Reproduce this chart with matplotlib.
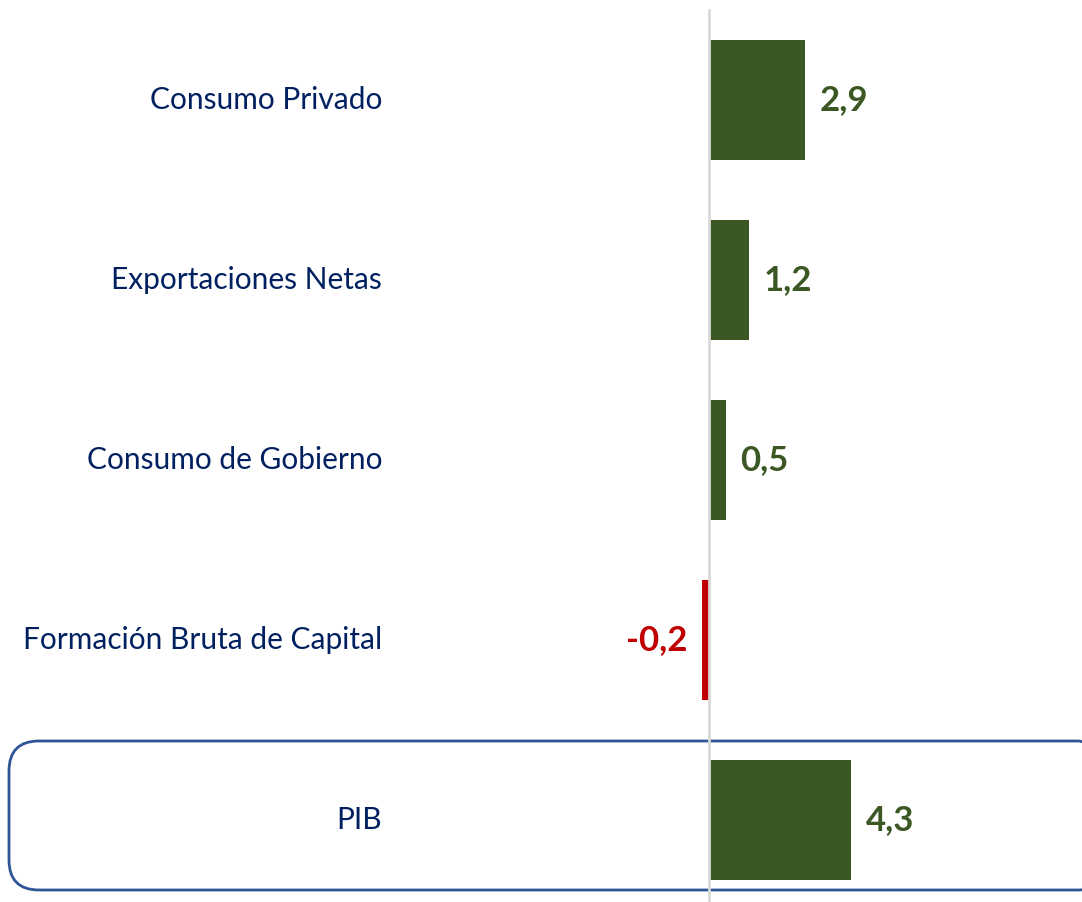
import matplotlib
matplotlib.use('Agg')
import matplotlib.pyplot as plt
from matplotlib.patches import FancyBboxPatch
import matplotlib.transforms as mtransforms

plt.rcParams['font.family'] = ['Lato', 'DejaVu Sans']

# Contribución al crecimiento del PIB (puntos porcentuales)
categories = ['Consumo Privado', 'Exportaciones Netas', 'Consumo de Gobierno',
              'Formación Bruta de Capital', 'PIB']
values = [2.9, 1.2, 0.5, -0.2, 4.3]
value_labels = ['2,9', '1,2', '0,5', '-0,2', '4,3']

green = '#3B5724'
red = '#C00000'
navy = '#002060'
box_blue = '#2F5597'

dpi = 100
fig = plt.figure(figsize=(1082/dpi, 902/dpi), dpi=dpi)
ax = fig.add_axes([0, 0, 1, 1])

ypos = list(range(len(categories)))
colors = [green if v >= 0 else red for v in values]
ax.barh(ypos, values, height=0.667, color=colors, zorder=2)

# zero line
ax.axvline(0, ymin=0, ymax=1 - 10/902, color='#D9D9D9', lw=2, zorder=3)

# value labels next to bars
for y, v, lab, c in zip(ypos, values, value_labels, colors):
    off = 0.45 if v >= 0 else -0.45
    ax.text(v + off, y, lab, color=c, fontsize=25, fontweight='bold',
            ha='left' if v >= 0 else 'right', va='center', zorder=4)

# category labels on the left
trans = mtransforms.blended_transform_factory(ax.transAxes, ax.transData)
for y, name in zip(ypos, categories):
    ax.text(382/1082, y, name, color=navy, fontsize=21.5, ha='right',
            va='center', transform=trans)

# rounded box around PIB row (right side runs off the image)
box = FancyBboxPatch((0.09, 0.12), 10.99, 1.49,
                     boxstyle='round,pad=0,rounding_size=0.3',
                     transform=fig.dpi_scale_trans, fill=False,
                     edgecolor=box_blue, lw=2, clip_on=False, zorder=1)
ax.add_patch(box)

px_per_unit = 33.0
ax.set_xlim(-709/px_per_unit, (1082-709)/px_per_unit)
ax.set_ylim((902-100)/180, -100/180)
ax.axis('off')

fig.savefig('out.png', dpi=dpi)
